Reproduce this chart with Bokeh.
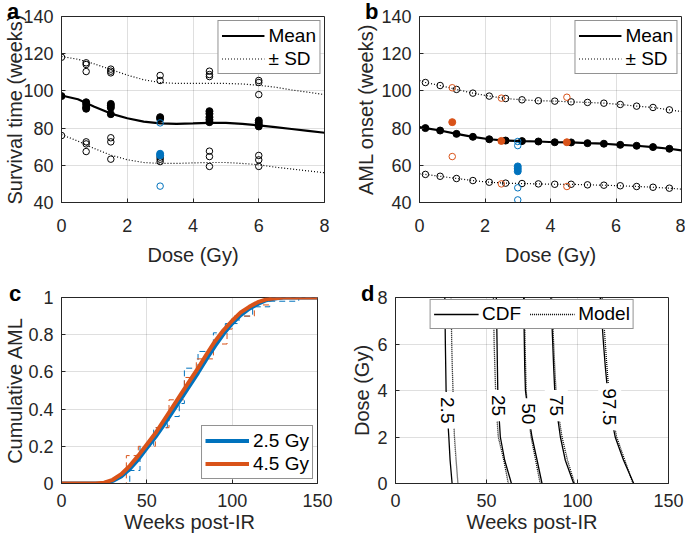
import numpy as np
from bokeh.plotting import figure
from bokeh.layouts import row, column
from bokeh.models import Legend, LegendItem, Label, FixedTicker, CustomJSTickFormatter, Div
from bokeh.embed import file_html
from bokeh.resources import INLINE

FONT = "Liberation Sans"
AX = "#262626"
BLUE = "#0072BD"
ORANGE = "#D95319"

# ---------------- Panel a data ----------------
a_xticks = [0, 2, 4, 6, 8]
a_yticks = [40, 60, 80, 100, 120, 140]
a_curve_x = [0, 0.5, 1, 1.5, 2, 2.5, 3, 3.5, 4, 4.5, 5, 5.5, 6, 6.5, 7, 7.5, 8]
a_mean = [97.5, 95.5, 91.5, 87.8, 85.3, 83.5, 82.5, 82.3, 82.5, 82.8, 82.8, 82.3, 81.5, 80.5, 79.5, 78.5, 77.5]
a_upper = [118.5, 117, 114.5, 111.5, 108.5, 106, 104.5, 104, 104, 104, 104, 103.7, 103, 102, 100.5, 99.3, 98]
a_lower = [76.5, 73, 69, 65.5, 63, 61.5, 61, 61, 61.3, 61.5, 61.5, 61, 60.3, 59, 58, 57, 56]
a_fill_x = [0, 0.75, 0.75, 0.75, 0.75, 1.5, 1.5, 1.5, 1.5, 3, 3, 4.5, 4.5, 4.5, 4.5, 4.5, 6, 6, 6, 6]
a_fill_y = [97.2, 93.9, 92.7, 91.2, 90.4, 93.0, 92.0, 90.9, 87.5, 85.9, 85.0, 89.1, 87.7, 85.9, 84.5, 83.2, 84.1, 83.0, 81.9, 80.9]
a_open_x = [0, 0, 0.75, 0.75, 0.75, 0.75, 0.75, 0.75, 1.5, 1.5, 1.5, 1.5, 1.5, 1.5,
            3, 3, 3, 3, 3, 4.5, 4.5, 4.5, 4.5, 4.5, 4.5, 6, 6, 6, 6, 6, 6]
a_open_y = [118.1, 76.0, 115.1, 114.2, 110.4, 72.6, 71.5, 67.4, 111.7, 110.6, 109.7, 74.8, 72.6, 63.3,
            108.3, 105.6, 64.4, 63.3, 62.0, 110.6, 108.8, 107.7, 67.6, 64.7, 59.4, 105.6, 104.5, 98.0, 65.3, 62.9, 59.4]
a_blue_fill_x = [3, 3]
a_blue_fill_y = [66.2, 65.3]
a_blue_open_x = [3, 3]
a_blue_open_y = [82.8, 48.8]

# ---------------- Panel b data ----------------
b_x = [0.18, 0.63, 1.13, 1.63, 2.13, 2.63, 3.13, 3.63, 4.13, 4.63, 5.13, 5.63, 6.13, 6.63, 7.13, 7.63]
b_mean = [80.0, 78.7, 76.9, 75.3, 74.0, 73.3, 73.0, 72.8, 72.4, 72.3, 71.9, 71.6, 71.0, 70.5, 69.8, 68.9]
b_upper = [104.5, 102.9, 100.8, 98.8, 97.2, 95.9, 95.2, 94.7, 94.5, 94.1, 93.8, 93.4, 92.7, 91.8, 91.1, 89.8]
b_lower = [55.1, 54.1, 52.9, 51.8, 50.9, 50.4, 50.2, 50.0, 49.8, 49.8, 49.5, 49.3, 49.0, 48.6, 48.2, 47.7]
b_ends_x = [0, 8]
b_mean_ends = [80.5, 68.0]
b_upper_ends = [105.6, 88.9]
b_lower_ends = [55.4, 47.2]
b_or_fill_x = [1, 2.5, 4.5]
b_or_fill_y = [83.2, 73.1, 72.4]
b_or_open_x = [1, 1, 2.5, 2.5, 4.5, 4.5]
b_or_open_y = [101.7, 64.7, 96.1, 50.0, 96.6, 48.6]
b_bl_fill_x = [3, 3, 3]
b_bl_fill_y = [59.4, 58.1, 56.8]
b_bl_open_x = [3, 3, 3, 3]
b_bl_open_y = [72.8, 70.6, 47.9, 41.4]

# ---------------- Panel c data ----------------
c_xticks = [0, 50, 100, 150]
c_yticks = [0, 0.2, 0.4, 0.6, 0.8, 1]
c_w = [0, 20, 25, 30, 35, 40, 45, 50, 55, 60, 65, 70, 75, 80, 85, 90, 95, 100, 105, 110, 115, 120, 125, 130, 140, 150]
c_blue = [0, 0, 0.002, 0.014, 0.038, 0.078, 0.13, 0.19, 0.25, 0.315, 0.385, 0.455, 0.525, 0.595, 0.67, 0.74,
          0.805, 0.86, 0.905, 0.94, 0.965, 0.985, 0.994, 1, 1, 1]
c_orange = [0, 0, 0.004, 0.02, 0.05, 0.095, 0.15, 0.21, 0.27, 0.34, 0.41, 0.48, 0.55, 0.62, 0.695, 0.765,
            0.825, 0.875, 0.92, 0.95, 0.975, 0.99, 0.996, 1, 1, 1]
c_blue_t = [40, 46, 54, 62, 69, 72, 80, 89, 96, 104, 112, 122, 139]
c_blue_c = [0.07, 0.2, 0.3, 0.36, 0.43, 0.62, 0.71, 0.81, 0.86, 0.9, 0.95, 0.98, 1.0]
c_orange_t = [38, 45, 55, 63, 72, 79, 89, 97, 100, 113, 122]
c_orange_c = [0.15, 0.2, 0.3, 0.45, 0.57, 0.67, 0.75, 0.83, 0.9, 0.96, 1.0]

# ---------------- Panel d data ----------------
d_yticks = [0, 2, 4, 6, 8]
d_dose = [0, 1, 2, 3, 4, 5, 6, 7, 8]
d_levels = ["2.5", "25", "50", "75", "97.5"]
d_cdf = [
    [31.1, 30.0, 29.3, 28.5, 27.8, 27.6, 27.4, 27.25, 27.1],
    [63.7, 60.0, 57.6, 56.8, 56.2, 56.0, 55.8, 55.6, 55.4],
    [80.5, 77.8, 75.0, 73.0, 71.4, 71.0, 70.8, 70.6, 70.4],
    [97.9, 93.3, 90.6, 88.8, 87.5, 86.9, 86.4, 85.9, 85.4],
    [130.9, 125.3, 120.7, 118.2, 116.5, 115.3, 114.3, 113.4, 112.5],
]
d_model = [
    [34.3, 33.3, 32.4, 31.9, 31.6, 31.2, 30.9, 30.7, 30.5],
    [62.0, 59.5, 56.5, 55.6, 55.0, 54.6, 54.2, 54.0, 53.8],
    [79.5, 77.0, 74.5, 72.8, 71.8, 71.5, 71.2, 71.0, 70.8],
    [98.4, 94.5, 91.5, 89.5, 88.2, 87.5, 86.9, 86.4, 86.0],
    [130.5, 126.0, 121.5, 119.0, 117.2, 116.2, 115.3, 114.4, 113.5],
]
d_label_dose = [3.15, 3.35, 3.0, 3.35, 3.3]

panel_letters = ["a", "b", "c", "d"]


def make_fig(w, h, xr, yr, bl, br, bt, bb, xt, yt):
    p = figure(width=w, height=h, x_range=xr, y_range=yr, output_backend="svg",
               toolbar_location=None, min_border_left=bl, min_border_right=br,
               min_border_top=bt, min_border_bottom=bb)
    p.outline_line_color = AX
    p.outline_line_width = 1
    p.outline_line_alpha = 1
    p.xaxis.ticker = FixedTicker(ticks=xt)
    p.yaxis.ticker = FixedTicker(ticks=yt)
    for ax in (p.xaxis[0], p.yaxis[0]):
        ax.axis_line_color = AX
        ax.major_tick_line_color = AX
        ax.major_tick_in = 4
        ax.major_tick_out = 0
        ax.minor_tick_line_color = None
        ax.major_label_text_font = FONT
        ax.major_label_text_font_size = "18px"
        ax.major_label_text_color = AX
        ax.axis_label_text_font = FONT
        ax.axis_label_text_font_size = "20px"
        ax.axis_label_text_font_style = "normal"
        ax.axis_label_text_color = AX
    p.grid.grid_line_color = AX
    p.grid.grid_line_alpha = 0.15
    return p


def style_legend(leg, loc, gw, rh, pad=3, margin=4, spacing=0):
    leg.location = loc
    leg.border_line_color = AX
    leg.border_line_width = 1
    leg.background_fill_color = "white"
    leg.background_fill_alpha = 1
    leg.label_text_font = FONT
    leg.label_text_font_size = "19px"
    leg.label_text_color = "black"
    leg.glyph_width = gw
    leg.glyph_height = rh
    leg.label_height = rh
    leg.spacing = spacing
    leg.padding = pad
    leg.margin = margin
    leg.label_standoff = 4


# ---------------- Panel a ----------------
pa = make_fig(340, 280, (0, 8), (40, 140), 61, 16, 16, 78, a_xticks, a_yticks)
pa.xaxis.axis_label = "Dose (Gy)"
pa.yaxis.axis_label = "Survival time (weeks)"
pa.yaxis.major_label_standoff = 8
pa.yaxis.axis_label_standoff = -6
pa.xaxis.major_label_standoff = 16
pa.xaxis.axis_label_standoff = 9
ra_up = pa.line(a_curve_x, a_upper, line_color="black", line_width=1.2, line_dash="1 2")
pa.line(a_curve_x, a_lower, line_color="black", line_width=1.2, line_dash="1 2")
ra_mean = pa.line(a_curve_x, a_mean, line_color="black", line_width=2.2)
pa.scatter(a_open_x, a_open_y, marker="circle", size=6.5, fill_color=None, line_color="black", line_width=1)
pa.scatter(a_fill_x, a_fill_y, marker="circle", size=7, fill_color="black", line_color="black")
pa.scatter(a_blue_open_x, a_blue_open_y, marker="circle", size=6.5, fill_color=None, line_color=BLUE, line_width=1)
pa.scatter(a_blue_fill_x, a_blue_fill_y, marker="circle", size=7, fill_color=BLUE, line_color=BLUE)
leg_a = Legend(items=[LegendItem(label="Mean", renderers=[ra_mean]),
                      LegendItem(label="\u00b1 SD", renderers=[ra_up])])
style_legend(leg_a, "top_right", 43, 23)
pa.add_layout(leg_a)

# ---------------- Panel b ----------------
pb = make_fig(345, 280, (0, 8), (40, 140), 79, 4, 16, 78, a_xticks, a_yticks)
pb.xaxis.axis_label = "Dose (Gy)"
pb.yaxis.axis_label = "AML onset (weeks)"
pb.yaxis.major_label_standoff = 8
pb.yaxis.axis_label_standoff = 1
pb.xaxis.major_label_standoff = 16
pb.xaxis.axis_label_standoff = 9
bx_line = [b_ends_x[0]] + b_x + [b_ends_x[1]]
rb_up = pb.line(bx_line, [b_upper_ends[0]] + b_upper + [b_upper_ends[1]], line_color="black", line_width=1.2, line_dash="1 2")
pb.line(bx_line, [b_lower_ends[0]] + b_lower + [b_lower_ends[1]], line_color="black", line_width=1.2, line_dash="1 2")
rb_mean = pb.line(bx_line, [b_mean_ends[0]] + b_mean + [b_mean_ends[1]], line_color="black", line_width=2.2)
pb.scatter(b_x + b_x, b_upper + b_lower, marker="circle", size=6.5, fill_color=None, line_color="black", line_width=1)
pb.scatter(b_x, b_mean, marker="circle", size=7, fill_color="black", line_color="black")
pb.scatter(b_or_open_x, b_or_open_y, marker="circle", size=6.5, fill_color=None, line_color=ORANGE, line_width=1)
pb.scatter(b_or_fill_x, b_or_fill_y, marker="circle", size=7, fill_color=ORANGE, line_color=ORANGE)
pb.scatter(b_bl_open_x, b_bl_open_y, marker="circle", size=6.5, fill_color=None, line_color=BLUE, line_width=1)
pb.scatter(b_bl_fill_x, b_bl_fill_y, marker="circle", size=7, fill_color=BLUE, line_color=BLUE)
leg_b = Legend(items=[LegendItem(label="Mean", renderers=[rb_mean]),
                      LegendItem(label="\u00b1 SD", renderers=[rb_up])])
style_legend(leg_b, "top_right", 43, 23)
pb.add_layout(leg_b)

# ---------------- Panel c ----------------
pc = make_fig(340, 258, (0, 150), (0, 1), 61, 23, 17, 55, c_xticks, c_yticks)
pc.xaxis.axis_label = "Weeks post-IR"
pc.yaxis.axis_label = "Cumulative AML"
pc.yaxis.formatter = CustomJSTickFormatter(code="return String(Math.round(tick * 10) / 10);")
pc.yaxis.major_label_standoff = 8
pc.yaxis.axis_label_standoff = -1
pc.xaxis.major_label_standoff = 10
pc.xaxis.axis_label_standoff = 1
pc.step([0] + c_blue_t + [150], [0] + c_blue_c + [1.0], mode="after", line_color=BLUE, line_width=1, line_dash="6 4")
pc.step([0] + c_orange_t + [150], [0] + c_orange_c + [1.0], mode="after", line_color=ORANGE, line_width=1, line_dash="6 4")
rc_b = pc.line(c_w, c_blue, line_color=BLUE, line_width=4)
rc_o = pc.line(c_w, c_orange, line_color=ORANGE, line_width=4)
leg_c = Legend(items=[LegendItem(label="2.5 Gy", renderers=[rc_b]),
                      LegendItem(label="4.5 Gy", renderers=[rc_o])])
style_legend(leg_c, "bottom_right", 44, 23)
pc.add_layout(leg_c)

# ---------------- Panel d ----------------
pd = make_fig(345, 258, (0, 150), (0, 8), 55, 17, 17, 55, c_xticks, d_yticks)
pd.xaxis.axis_label = "Weeks post-IR"
pd.yaxis.axis_label = "Dose (Gy)"
pd.yaxis.major_label_standoff = 8
pd.yaxis.axis_label_standoff = 1
pd.xaxis.major_label_standoff = 10
pd.xaxis.axis_label_standoff = 1
rd_cdf = None
rd_mod = None
for xs_c, xs_m in zip(d_cdf, d_model):
    r1 = pd.line(xs_c, d_dose, line_color="black", line_width=1.3)
    r2 = pd.line(xs_m, d_dose, line_color="black", line_width=1.3, line_dash="1 1")
    rd_cdf = rd_cdf or r1
    rd_mod = rd_mod or r2
for lvl, xs_c, ld in zip(d_levels, d_cdf, d_label_dose):
    xl = float(np.interp(ld, d_dose, xs_c))
    pd.add_layout(Label(x=xl, y=ld, text=lvl, angle=-np.pi / 2, text_align="center",
                        text_baseline="middle", text_font=FONT, text_font_size="19px",
                        text_color="black", background_fill_color="white", padding=5))
leg_d = Legend(items=[LegendItem(label="CDF", renderers=[rd_cdf]),
                      LegendItem(label="Model", renderers=[rd_mod])], orientation="horizontal")
style_legend(leg_d, "top_center", 45, 20, pad=3, margin=2, spacing=8)
pd.add_layout(leg_d)

# panel letters as an overlay that does not take part in the layout flow
letter_pos = [(2, -4), (360, -4), (4, 278), (356, 278)]
spans = "".join(
    '<span style="position:absolute; left:%dpx; top:%dpx; font-family:\'Liberation Sans\'; '
    'font-weight:bold; font-size:22px; line-height:22px; color:black;">%s</span>' % (x, y, s)
    for s, (x, y) in zip(panel_letters, letter_pos))
overlay = Div(text='<div style="position:relative; width:685px; height:538px;">' + spans + '</div>',
              width=685, height=538,
              styles={"position": "absolute", "left": "0px", "top": "0px", "z-index": "10",
                      "pointer-events": "none"})

layout = column(row(pa, pb), row(pc, pd), overlay)
open("out.html", "w").write(file_html(layout, INLINE))
